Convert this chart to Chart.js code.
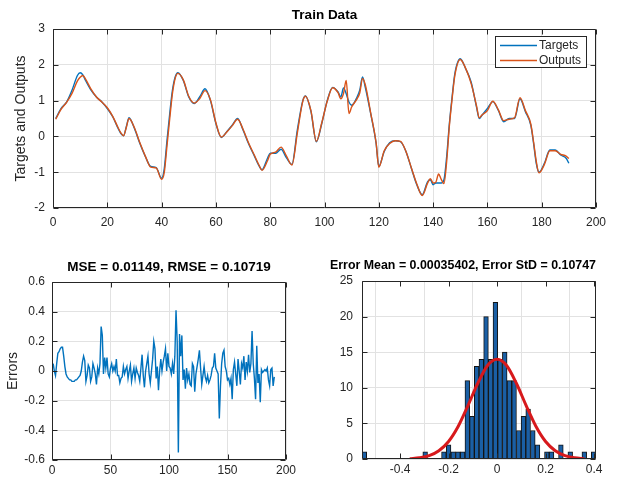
<!DOCTYPE html>
<html>
<head>
<meta charset="utf-8">
<title>Train Data</title>
<script src="https://cdn.jsdelivr.net/npm/chart.js@4.4.1/dist/chart.umd.min.js"></script>
<style>
  html, body { margin: 0; padding: 0; background: #fff; }
  #fig { position: relative; width: 628px; height: 480px; overflow: hidden; }
  canvas { position: absolute; }
  #trainChart { left: 0; top: 0; }
  #errorChart { left: 0; top: 240px; }
  #histChart { left: 330px; top: 240px; }
</style>
</head>
<body>
<div id="fig">
  <canvas id="trainChart" width="628" height="240"></canvas>
  <canvas id="errorChart" width="314" height="240"></canvas>
  <canvas id="histChart" width="298" height="240"></canvas>
</div>
<script>
/* ---- Data ---- */

// Top panel: sample numbers and values of the two curves
const trainX = [
  1, 3, 5, 7, 9, 10, 11, 12, 14, 16,
  18, 20, 22, 24, 25, 26, 27, 28, 30, 32,
  34, 36, 38, 40, 41, 42, 43, 44, 45, 46,
  48, 50, 52, 54, 56, 58, 60, 62, 64, 66,
  68, 70, 72, 74, 76, 77, 79, 80, 82, 84,
  86, 88, 90, 92, 93, 95, 97, 99, 101, 103,
  105, 106, 107, 108, 109, 110, 112, 113, 114, 115,
  117, 119, 120, 122, 124, 126, 128, 130, 132, 134,
  136, 138, 139, 140, 141, 142, 143, 144, 145, 146,
  147, 148, 150, 152, 154, 156, 157, 158, 160, 162,
  164, 166, 168, 170, 172, 174, 176, 177, 178, 179,
  181, 183, 185, 187, 189, 190
];
const targets = [
  0.50, 0.78, 0.96, 1.29, 1.70, 1.78, 1.72, 1.56, 1.29, 1.10,
  0.96, 0.78, 0.55, 0.22, 0.08, 0.02, 0.27, 0.52, 0.22, -0.20,
  -0.56, -0.84, -0.87, -1.17, -0.89, -0.10, 0.64, 1.29, 1.66, 1.78,
  1.56, 1.10, 0.92, 1.10, 1.33, 1.00, 0.36, -0.03, 0.13, 0.31,
  0.50, 0.18, -0.20, -0.52, -0.84, -0.93, -0.61, -0.47, -0.47, -0.36,
  -0.60, -0.78, 0.18, 1.00, 1.13, 0.70, -0.15, 0.36, 1.00, 1.37,
  1.24, 1.10, 1.35, 1.19, 0.96, 0.87, 1.10, 1.30, 1.66, 1.38,
  0.64, -0.19, -0.84, -0.42, -0.18, -0.12, -0.15, -0.42, -0.89, -1.35,
  -1.63, -1.26, -1.21, -1.35, -1.30, -1.30, -1.30, -1.21, -0.56, 0.36,
  1.10, 1.75, 2.17, 1.89, 1.52, 0.82, 0.50, 0.59, 0.78, 0.97,
  0.73, 0.41, 0.50, 0.50, 1.05, 0.69, 0.31, -0.19, -0.75, -1.00,
  -0.75, -0.38, -0.38, -0.52, -0.61, -0.75
];
const outputs = [
  0.48, 0.76, 0.95, 1.20, 1.55, 1.65, 1.70, 1.60, 1.32, 1.10,
  0.96, 0.80, 0.56, 0.24, 0.10, 0.02, 0.25, 0.50, 0.24, -0.18,
  -0.55, -0.86, -0.88, -1.20, -1.00, -0.25, 0.50, 1.20, 1.62, 1.76,
  1.58, 1.12, 0.93, 1.05, 1.28, 1.02, 0.38, -0.02, 0.12, 0.30,
  0.48, 0.20, -0.18, -0.50, -0.82, -0.95, -0.68, -0.50, -0.44, -0.30,
  -0.55, -0.80, 0.10, 0.98, 1.12, 0.72, -0.14, 0.38, 0.98, 1.36,
  1.22, 1.05, 1.20, 1.56, 0.64, 0.82, 1.05, 1.22, 1.62, 1.45,
  0.66, -0.17, -0.86, -0.40, -0.20, -0.12, -0.14, -0.42, -0.88, -1.33,
  -1.65, -1.30, -1.18, -1.30, -1.28, -1.05, -1.20, -1.32, -0.70, 0.30,
  1.05, 1.70, 2.15, 1.90, 1.48, 0.85, 0.52, 0.60, 0.72, 0.98,
  0.75, 0.44, 0.48, 0.52, 1.08, 0.72, 0.34, -0.15, -0.70, -1.02,
  -0.78, -0.40, -0.40, -0.50, -0.55, -0.62
];

// Bottom left: error of each sample 1..190
const errors = [
  0.05, 0.00, -0.03, 0.05, 0.12, 0.13, 0.15, 0.16, 0.16, 0.10,
  0.03, -0.02, -0.04, -0.05, -0.06, -0.06, -0.07, -0.07, -0.07, -0.06,
  -0.06, -0.05, -0.04, -0.03, 0.00, 0.06, 0.10, 0.07, -0.07, -0.03,
  0.04, 0.02, -0.07, -0.04, 0.05, 0.02, -0.02, -0.09, 0.02, -0.02,
  0.05, 0.30, 0.24, -0.02, 0.09, 0.02, 0.09, -0.02, -0.04, 0.02,
  0.05, 0.00, 0.03, 0.00, 0.08, -0.03, -0.03, -0.08, -0.05, -0.04,
  0.03, -0.02, 0.01, 0.03, -0.05, 0.00, 0.04, -0.07, -0.02, 0.02,
  -0.05, 0.02, -0.01, -0.03, -0.07, 0.02, 0.11, -0.03, -0.11, 0.00,
  0.05, 0.10, -0.02, -0.08, 0.00, 0.08, 0.20, 0.15, -0.05, 0.03,
  -0.13, 0.00, 0.08, 0.00, 0.06, 0.10, 0.15, 0.00, 0.12, 0.03,
  0.02, -0.02, 0.05, -0.02, 0.10, 0.41, 0.20, -0.55, 0.25, 0.10,
  0.24, -0.06, 0.01, -0.12, 0.02, -0.06, -0.02, -0.09, -0.10, 0.05,
  0.03, -0.14, -0.02, 0.03, 0.08, 0.14, 0.02, -0.09, -0.03, 0.03,
  -0.04, -0.07, -0.03, -0.08, -0.06, -0.03, 0.02, 0.03, 0.12, 0.02,
  0.00, -0.02, -0.32, -0.10, 0.05, 0.12, 0.14, 0.03, 0.00, -0.06,
  -0.05, -0.09, -0.05, -0.19, 0.01, 0.06, -0.02, -0.10, 0.08, 0.00,
  -0.09, 0.05, 0.02, 0.10, -0.06, 0.06, 0.00, 0.11, -0.01, 0.05,
  0.27, 0.05, -0.05, -0.19, 0.17, -0.08, -0.02, -0.21, 0.01, -0.01,
  0.00, 0.01, 0.00, 0.02, -0.06, -0.10, 0.01, 0.02, -0.10, -0.04
];

// Bottom right: 50 histogram bins between the outer bin edges
const histMin = -0.557;
const histMax = 0.408;
const histCounts = [
  1, 0, 0, 0, 0, 0, 0, 0, 0, 0,
  0, 0, 0, 1, 0, 0, 0, 1, 2, 1,
  1, 1, 11, 6, 13, 14, 20, 14, 22, 14,
  15, 11, 11, 4, 6, 7, 4, 2, 0, 1,
  1, 0, 2, 0, 1, 0, 0, 1, 0, 1
];
// red fitted curve as seen on the plot
const fitX = [-0.36, -0.32, -0.28, -0.24, -0.20, -0.16, -0.12, -0.08, -0.04, 0,
              0.04, 0.08, 0.12, 0.16, 0.20, 0.24, 0.28, 0.32, 0.36];
const fitY = [0.05, 0.17, 0.47, 1.16, 2.46, 4.6, 7.5, 10.6, 13.1, 14.0,
              13.1, 10.6, 7.5, 4.6, 2.46, 1.16, 0.47, 0.17, 0.05];

// tick labels
const trainXTicks = [0, 20, 40, 60, 80, 100, 120, 140, 160, 180, 200];
const trainYTicks = [-2, -1, 0, 1, 2, 3];
const errXTicks = [0, 50, 100, 150, 200];
const errYTicks = [-0.6, -0.4, -0.2, 0, 0.2, 0.4, 0.6];
const histXTicks = [-0.4, -0.2, 0, 0.2, 0.4];
const histYTicks = [0, 5, 10, 15, 20, 25];

/* ---- Styles ---- */
const FONT = '"Liberation Sans", Arial, Helvetica, sans-serif';
const COLORS = {
  targets: '#0072BD',
  outputs: '#D95319',
  errors: '#0072BD',
  bars: '#1a5fa5',
  barEdge: '#141414',
  fit: '#d7191c',
  axis: '#262626',
  grid: '#e2e2e2',
  text: '#262626',
};

Chart.defaults.font.family = FONT;
Chart.defaults.color = COLORS.text;
Chart.defaults.animation = false;

function axis(tickValues, min, max, size, pad, title) {
  return {
    type: 'linear',
    min, max,
    offset: false,
    grid: { color: COLORS.grid, drawTicks: false },
    border: { display: false },
    afterBuildTicks: (s) => { s.ticks = tickValues.map(v => ({ value: v })); },
    afterFit: (s) => { if (s.isHorizontal()) s.height = size; else s.width = size; },
    ticks: {
      autoSkip: false, maxRotation: 0, padding: pad,
      color: COLORS.text, font: { size: 12 },
      callback: (v) => String(v),
    },
    title: title
      ? { display: true, text: title.text, color: COLORS.text, font: { size: 14 }, padding: { top: title.pad, bottom: 0 } }
      : { display: false },
  };
}

function chartTitle(text, top, bottom, fullSize) {
  return {
    display: true, text, fullSize,
    color: '#000',
    font: { size: 13.5, weight: 'bold' },
    padding: { top, bottom },
  };
}

// axes box with inward tick marks on all four sides
const matlabBox = {
  id: 'matlabBox',
  afterDatasetsDraw(chart) {
    const { ctx, chartArea: a, scales: { x, y } } = chart;
    const L = Math.round(a.left) + 0.5, R = Math.round(a.right) - 0.5;
    const T = Math.round(a.top) + 0.5, B = Math.round(a.bottom) - 0.5;
    ctx.save();
    ctx.strokeStyle = COLORS.axis;
    ctx.lineWidth = 1;
    ctx.beginPath();
    ctx.rect(L, T, R - L, B - T);
    x.ticks.forEach(t => {
      const px = Math.round(x.getPixelForValue(t.value)) + 0.5;
      ctx.moveTo(px, B); ctx.lineTo(px, B - 5);
      ctx.moveTo(px, T); ctx.lineTo(px, T + 5);
    });
    y.ticks.forEach(t => {
      const py = Math.round(y.getPixelForValue(t.value)) + 0.5;
      ctx.moveTo(L, py); ctx.lineTo(L + 5, py);
      ctx.moveTo(R, py); ctx.lineTo(R - 5, py);
    });
    ctx.stroke();
    ctx.restore();
  }
};

// legend box in the upper right corner of the axes
const insetLegend = {
  id: 'insetLegend',
  afterDraw(chart) {
    const { ctx, chartArea: a } = chart;
    const w = 92, h = 32;
    const left = Math.round(a.right) - 9 - w, top = Math.round(a.top) + 7;
    ctx.save();
    ctx.fillStyle = '#fff';
    ctx.fillRect(left, top, w, h);
    ctx.strokeStyle = COLORS.axis;
    ctx.lineWidth = 1;
    ctx.strokeRect(left + 0.5, top + 0.5, w - 1, h - 1);
    ctx.font = '12px ' + FONT;
    ctx.textBaseline = 'middle';
    chart.data.datasets.forEach((ds, i) => {
      const yy = top + 9.5 + i * 15;
      ctx.strokeStyle = ds.borderColor;
      ctx.lineWidth = 1.4;
      ctx.beginPath();
      ctx.moveTo(left + 5, yy);
      ctx.lineTo(left + 42, yy);
      ctx.stroke();
      ctx.fillStyle = COLORS.text;
      ctx.fillText(ds.label, left + 44, yy);
    });
    ctx.restore();
  }
};

/* ---- Top: Train Data ---- */
new Chart(document.getElementById('trainChart'), {
  type: 'line',
  data: {
    datasets: [
      {
        label: 'Targets',
        data: trainX.map((t, i) => ({ x: t, y: targets[i] })),
        borderColor: COLORS.targets,
        borderWidth: 1.4,
        pointRadius: 0,
        cubicInterpolationMode: 'monotone',
        order: 1,
      },
      {
        label: 'Outputs',
        data: trainX.map((t, i) => ({ x: t, y: outputs[i] })),
        borderColor: COLORS.outputs,
        borderWidth: 1.4,
        pointRadius: 0,
        cubicInterpolationMode: 'monotone',
        order: 0,
      }
    ]
  },
  options: {
    responsive: false,
    layout: { padding: { left: 0, right: 32, top: 0, bottom: 0 } },
    plugins: {
      legend: { display: false },
      tooltip: { enabled: false },
      title: chartTitle('Train Data', 7, 5.8, false),
    },
    scales: {
      x: axis(trainXTicks, 0, 200, 32, 7),
      y: axis(trainYTicks, -2, 3, 53, 8, { text: 'Targets and Outputs', pad: 12.6 }),
    }
  },
  plugins: [matlabBox, insetLegend]
});

/* ---- Bottom left: Errors ---- */
new Chart(document.getElementById('errorChart'), {
  type: 'line',
  data: {
    datasets: [{
      label: 'Errors',
      data: errors.map((e, i) => ({ x: i + 1, y: e })),
      borderColor: COLORS.errors,
      borderWidth: 1.4,
      pointRadius: 0,
      tension: 0,
    }]
  },
  options: {
    responsive: false,
    layout: { padding: { left: 0, right: 28, top: 0, bottom: 0 } },
    plugins: {
      legend: { display: false },
      tooltip: { enabled: false },
      title: chartTitle('MSE = 0.01149, RMSE = 0.10719', 19, 6.8, false),
    },
    scales: {
      x: axis(errXTicks, 0, 200, 20, 3),
      y: axis(errYTicks, -0.6, 0.6, 52, 7, { text: 'Errors', pad: 4.6 }),
    }
  },
  plugins: [matlabBox]
});

/* ---- Bottom right: Error histogram with fitted curve ---- */
const binWidth = (histMax - histMin) / histCounts.length;
new Chart(document.getElementById('histChart'), {
  type: 'bar',
  data: {
    datasets: [
      {
        type: 'line',
        label: 'Fit',
        data: fitX.map((x, i) => ({ x, y: fitY[i] })),
        borderColor: COLORS.fit,
        borderWidth: 3,
        pointRadius: 0,
        cubicInterpolationMode: 'monotone',
        order: 0,
      },
      {
        type: 'bar',
        label: 'Errors',
        data: histCounts.map((c, k) => ({ x: histMin + (k + 0.5) * binWidth, y: c })),
        backgroundColor: COLORS.bars,
        borderColor: COLORS.barEdge,
        borderWidth: 1,
        categoryPercentage: 1,
        barPercentage: 1,
        order: 1,
      }
    ]
  },
  options: {
    responsive: false,
    layout: { padding: { left: 0, right: 32, top: 0, bottom: 0 } },
    plugins: {
      legend: { display: false },
      tooltip: { enabled: false },
      title: chartTitle('Error Mean = 0.00035402, Error StD = 0.10747', 17, 7.8, true),
    },
    scales: {
      x: axis(histXTicks, histMin, histMax, 21, 3),
      y: axis(histYTicks, 0, 25, 32, 9),
    }
  },
  plugins: [matlabBox]
});
</script>
</body>
</html>
